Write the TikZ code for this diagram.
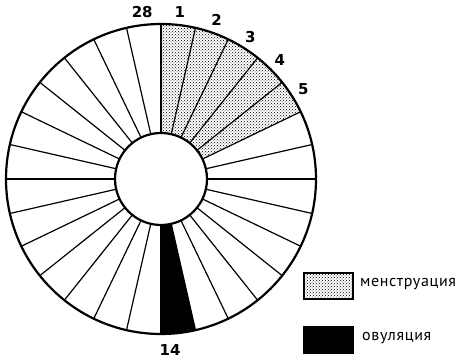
\documentclass[tikz,border=0pt]{standalone}
\usepackage{fontspec}
\setmainfont{DejaVu Sans}
\newfontfamily\legfont[LetterSpace=4]{PT Sans}
\usetikzlibrary{patterns}
\tikzset{
  spoke/.style={line width=1.2pt},
  rim/.style={line width=2.2pt},
  daylabel/.style={font=\bfseries\fontsize{15}{15}\selectfont, inner sep=0pt},
  legbox/.style={line width=2.4pt, minimum width=49pt, minimum height=26pt, inner sep=0pt},
  legtext/.style={font=\legfont\fontsize{16}{16}\selectfont, anchor=west, inner sep=0pt}
}
\begin{document}
\begin{tikzpicture}[x=1pt,y=1pt]
\useasboundingbox (0,0) rectangle (457,363);
\begin{scope}[shift={(161,184)}]
  \def\Ro{155}
  \def\Ri{46}
  % menstruation days 1-5
  \fill[pattern=crosshatch dots] (90:\Ri) -- (90:\Ro)
     arc[start angle=90, end angle=90-5*360/28, radius=\Ro]
     -- (90-5*360/28:\Ri)
     arc[start angle=90-5*360/28, end angle=90, radius=\Ri] -- cycle;
  % ovulation day 14
  \fill[black] (-90:\Ri) -- (-90:\Ro)
     arc[start angle=-90, end angle=-90+360/28, radius=\Ro]
     -- (-90+360/28:\Ri)
     arc[start angle=-90+360/28, end angle=-90, radius=\Ri] -- cycle;
  % spokes
  \foreach \i in {0,...,27}
    \draw[spoke] (90-\i*360/28:\Ri) -- (90-\i*360/28:\Ro);
  % rims
  \draw[rim] (0,0) circle[radius=\Ro];
  \draw[rim, fill=white] (0,0) circle[radius=\Ri];
  % labels
  \foreach \n in {1,...,5}
    \node[daylabel] (d\n) at ({90-(\n-0.5)*360/28}:168) {\n};
  \node[daylabel] (d28) at ({90+0.5*360/28}:168) {28};
  \node[daylabel] (d14) at (9,-171) {14};
\end{scope}
% legend
\node[legbox, draw, pattern=crosshatch dots] (lm) at (328.5,77) {};
\node[legbox, draw, fill=black] (lo) at (328.5,23) {};
\node[legtext] (tm) at (360,79) {менструация};
\node[legtext] (to) at (362,25) {овуляция};
\end{tikzpicture}
\end{document}
